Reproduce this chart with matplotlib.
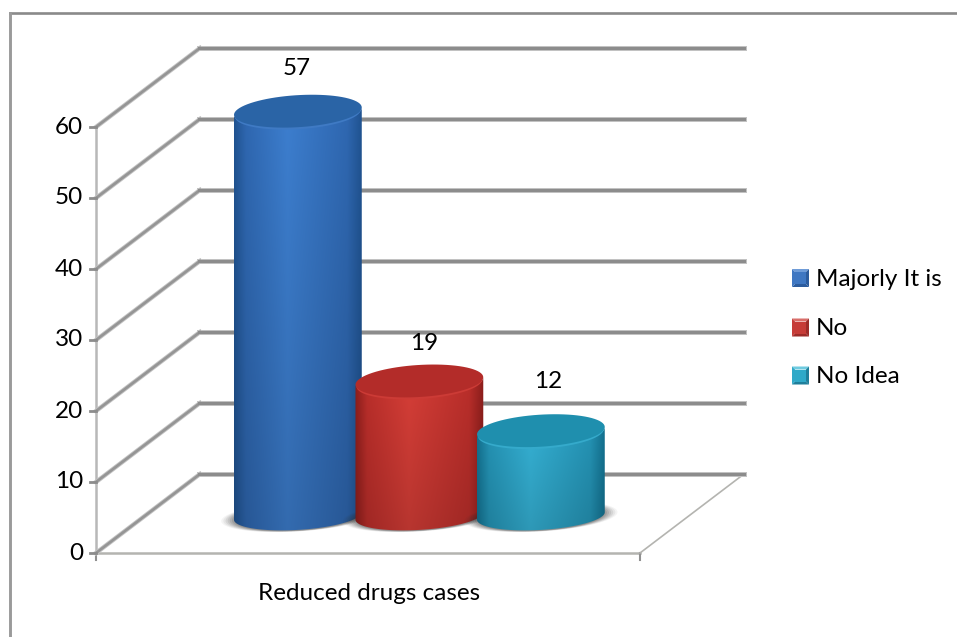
import numpy as np
import matplotlib
matplotlib.use("Agg")
import matplotlib.pyplot as plt
from matplotlib.patches import Polygon
from matplotlib.colors import to_rgb

plt.rcParams['font.family'] = ['Lato', 'DejaVu Sans']

W, H = 957, 637

# data
series = ["Majorly It is", "No", "No Idea"]
values = [57, 19, 12]
category = "Reduced drugs cases"
yticks = [0, 10, 20, 30, 40, 50, 60]

# label nudges in pixels from the cap centre
label_dx = [-1, 5, 7]
label_dy = [43, 37, 49]

# cylinder colours: edge, mid-tone, brightest
body_cols = [("#1f528f", "#2f68b2", "#3d7fd0"),
             ("#8a1d1b", "#bd2f2b", "#d93f38"),
             ("#12708f", "#2596b8", "#36b4d8")]
cap_cols = ["#2a64a6", "#b32c29", "#1f8fae"]
rim_cols = ["#3f7ac4", "#cc3b36", "#35aacb"]
legend_cols = [("#3f77c2", "#6f9cd8", "#2c5c9e"),
               ("#c63c38", "#d96e6a", "#9c2c29"),
               ("#2fa9c8", "#6fcbe0", "#1f7f9b")]

# front plane in pixels, everything else goes through data coords
X0, X1 = 96, 640
Y0, Y60 = 553, 127
PX_X = X1 - X0
PX_Y = (Y0 - Y60) / 60.0
DEPTH_X = 104 / PX_X
DEPTH_Y = 79 / PX_Y

fig = plt.figure(figsize=(W / 100, H / 100), dpi=100)
fig.patch.set_facecolor("white")
ax = fig.add_axes([X0 / W, 1 - Y0 / H, (X1 - X0) / W, (Y0 - Y60) / H])
ax.axis("off")


def back(x, v, d):
    # point on the floor/wall at depth d (0 front, 1 back)
    return x + d * DEPTH_X, v + d * DEPTH_Y


def ellipse(cx, cv, rx, ry, t0=0, t1=2 * np.pi, tilt=3.5, n=80):
    # tilted ellipse, radii in pixels, returned in data units
    t = np.linspace(t0, t1, n)
    a = np.radians(tilt)
    px = rx * np.cos(t)
    py = ry * np.sin(t)
    xx = px * np.cos(a) - py * np.sin(a)
    yy = px * np.sin(a) + py * np.cos(a)
    return np.column_stack([cx + xx / PX_X, cv + yy / PX_Y])


def shading(cols, n=256):
    # left-right highlight with a slight fade towards the bottom
    edge, mid, bright = [np.array(to_rgb(c)) for c in cols]
    pos = [0, 0.1, 0.42, 0.88, 1]
    stops = np.array([edge, mid, bright, mid, edge])
    row = np.column_stack([np.interp(np.linspace(0, 1, n), pos, stops[:, c]) for c in range(3)])
    fade = np.linspace(1.0, 0.84, 64)[:, None, None]
    return np.clip(row[None, :, :] * fade, 0, 1)


# outer frame, only top and left fall inside the image
fig.add_artist(plt.Line2D([9.5 / W, 1], [1 - 13.2 / H, 1 - 13.2 / H], transform=fig.transFigure,
                          color="#8a8a8a", lw=1.9))
fig.add_artist(plt.Line2D([9.5 / W, 9.5 / W], [1 - 13 / H, 0], transform=fig.transFigure,
                          color="#9a9a9a", lw=2.1))

# floor and walls
floor_col = "#b4b4b0"
ax.plot([0, 0], [0, 60], color="#b8b8b8", lw=1.8, clip_on=False, zorder=1)
ax.plot([0, 1], [0, 0], color=floor_col, lw=1.8, clip_on=False, zorder=1)
ax.plot([0, 0], [0, -1], color="#909090", lw=1.5, clip_on=False, zorder=1)
ax.plot([1, 1], [0, -1], color="#909090", lw=1.5, clip_on=False, zorder=1)
bx, by = back(1, 0, 1)
ax.plot([1, bx], [0, by], color=floor_col, lw=1.2, clip_on=False, zorder=1)

# gridlines: slanted part on the side wall, flat part on the back wall
for v in yticks:
    bx0, by0 = back(0, v, 1)
    bx1, by1 = back(1, v, 1)
    ax.plot([0, bx0], [v, by0], color="#c4c4c4", lw=3.2, clip_on=False, zorder=1.2)
    ax.plot([0, bx0], [v, by0], color="#959595", lw=1.9, clip_on=False, zorder=1.3)
    ax.plot([bx0 - 0.002, bx1], [by0, by1], color="#c4c4c4", lw=3.6, clip_on=False, zorder=1.2)
    ax.plot([bx0 - 0.002, bx1], [by0, by1], color="#8c8c8c", lw=2.2, clip_on=False, zorder=1.3)
    ax.plot([-6 / PX_X, 0], [v, v], color="#8c8c8c", lw=2.0, clip_on=False, zorder=1.3)
    ax.text(-13 / PX_X, v, str(v), ha="right", va="center", fontsize=17.5, color="black", clip_on=False)

# cylinders, all sitting at mid depth
depth = 0.47
rx = 64
ry = 16
ry_base = 14
for i, val in enumerate(values):
    cx, base = back((249 + i * 121.5 - X0) / PX_X, 0, depth)
    top = base + val
    z = 3 + i

    # soft floor shadow
    for k, al in zip(np.linspace(1.2, 1.0, 7), [0.05, 0.07, 0.09, 0.1, 0.12, 0.14, 0.16]):
        pts = ellipse(cx, base - 0.1, rx * k, ry_base * (0.7 + 0.3 * k))
        ax.add_patch(Polygon(pts, closed=True, fc="#303030", ec="none", alpha=al, zorder=z - 0.5, clip_on=False))

    # body outline: lower half of bottom ellipse, back along lower half of the top one
    low = ellipse(cx, base, rx, ry_base, np.pi, 2 * np.pi)
    up = ellipse(cx, top, rx, ry, 0, -np.pi)
    outline = Polygon(np.vstack([low, up]), closed=True, fc="none", ec="none", zorder=z, clip_on=False)
    ax.add_patch(outline)
    im = ax.imshow(shading(body_cols[i]), aspect="auto", zorder=z, interpolation="bilinear",
                   extent=[cx - (rx + 1) / PX_X, cx + (rx + 1) / PX_X, base - 3, top + 3])
    im.set_clip_path(outline)
    im.set_clip_box(fig.bbox)

    # lighter rim under the cap, then the cap
    ax.add_patch(Polygon(ellipse(cx, top - 2 / PX_Y, rx - 1, ry), closed=True, fc=rim_cols[i], ec="none",
                         zorder=z + 0.1, clip_on=False))
    ax.add_patch(Polygon(ellipse(cx, top, rx, ry), closed=True, fc=cap_cols[i], ec="none",
                         zorder=z + 0.2, clip_on=False))

    # value label above the cap
    ax.text(cx + label_dx[i] / PX_X, top + label_dy[i] / PX_Y, str(val), ha="center", va="center",
            fontsize=17.5, color="black", zorder=10, clip_on=False)

ax.set_xlim(0, 1)
ax.set_ylim(0, 60)

# category label
fig.text(369 / W, 1 - 593 / H, category, ha="center", va="center", fontsize=17.5, color="black")

# legend with bevelled keys
leg_y = [278, 327.5, 375.5]
fr = lambda a, b: (a / W, 1 - b / H)
for name, y, (mid, hi, lo) in zip(series, leg_y, legend_cols):
    x0, x1 = 792, 809
    y0, y1 = y - 9, y + 9
    inset = 3
    tris = [([(x0, y0), (x1, y0), (x1 - inset, y0 + inset), (x0 + inset, y0 + inset)], hi),
            ([(x0, y1), (x1, y1), (x1 - inset, y1 - inset), (x0 + inset, y1 - inset)], lo),
            ([(x0, y0), (x0, y1), (x0 + inset, y1 - inset), (x0 + inset, y0 + inset)], mid),
            ([(x1, y0), (x1, y1), (x1 - inset, y1 - inset), (x1 - inset, y0 + inset)], lo),
            ([(x0 + inset, y0 + inset), (x1 - inset, y0 + inset), (x1 - inset, y1 - inset), (x0 + inset, y1 - inset)], mid)]
    for pts, col in tris:
        fig.add_artist(Polygon([fr(*p) for p in pts], closed=True, fc=col, ec="none", transform=fig.transFigure))
    fig.text(816 / W, 1 - (y + 1) / H, name, ha="left", va="center", fontsize=17.5, color="black")

fig.savefig("out.png", dpi=100)
